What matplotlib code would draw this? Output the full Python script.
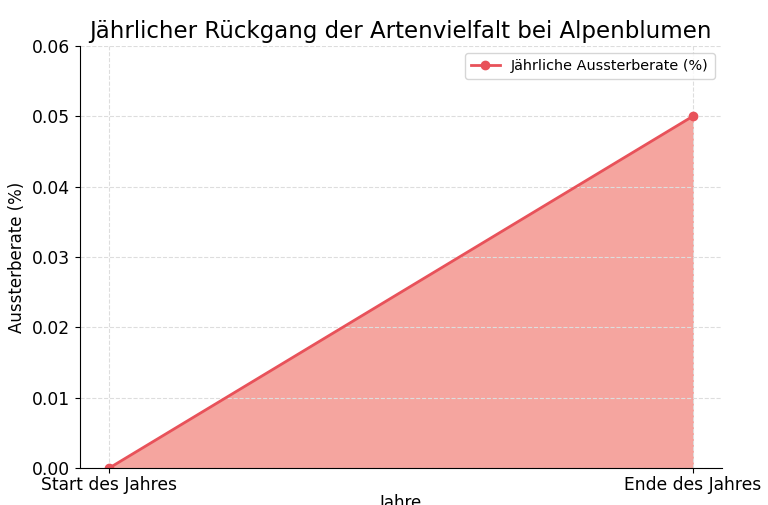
import numpy as np
import matplotlib.pyplot as plt

# Daten
zeitpunkte = ['Start des Jahres', 'Ende des Jahres']
aussterberate = [0.0, 0.05]

x = np.arange(len(zeitpunkte))

fig = plt.figure(figsize=(7.68, 5.05), dpi=100)
ax = fig.add_axes([0.104, 0.073, 0.836, 0.836])

ax.plot(x, aussterberate, marker='o', color='#e8525a', linewidth=2,
        markersize=6, label='Jährliche Aussterberate (%)')
ax.fill_between(x, aussterberate, color='#f5a09a', alpha=0.95)

ax.set_ylim(0, 0.06)
ax.set_xticks(x)
ax.set_xticklabels(zeitpunkte, fontsize=12.3)
ax.tick_params(axis='y', labelsize=12.3)
ax.tick_params(axis='x', pad=2)
ax.set_yticks(np.arange(0, 0.061, 0.01))
ax.yaxis.set_major_formatter(plt.FormatStrFormatter('%.2f'))

ax.set_title('Jährlicher Rückgang der Artenvielfalt bei Alpenblumen', fontsize=16.5)
ax.set_xlabel('Jahre', fontsize=12, labelpad=0)
ax.set_ylabel('Aussterberate (%)', fontsize=12)

ax.grid(True, linestyle='--', color='#dddddd', linewidth=0.8)
ax.spines['top'].set_visible(False)
ax.spines['right'].set_visible(False)
ax.legend(loc='upper right', fontsize=10.4)

fig.savefig('out.png', dpi=100)
